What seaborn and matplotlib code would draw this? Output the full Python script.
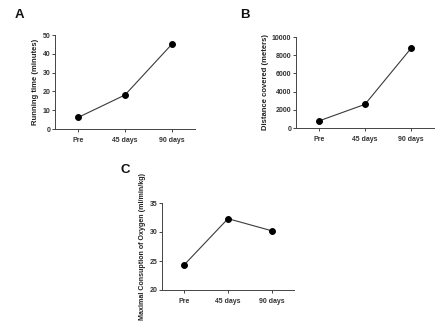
import matplotlib
matplotlib.use("Agg")
import matplotlib.pyplot as plt
import seaborn as sns
import pandas as pd

sns.set_theme(style="ticks")
plt.rcParams['font.family'] = ['Liberation Sans', 'DejaVu Sans']
plt.rcParams['font.weight'] = 'bold'

categories = ["Pre", "45 days", "90 days"]
running_time = [6.2, 18.1, 45.0]
distance = [780, 2600, 8750]
vo2max = [24.3, 32.3, 30.2]

ticks_a = [0, 10, 20, 30, 40, 50]
ticks_b = [0, 2000, 4000, 6000, 8000, 10000]
ticks_c = [20, 25, 30, 35]

fig = plt.figure(figsize=(4.44, 3.29), dpi=100)

panels = [
    ([55/444, 1-129/329, 140/444, 94/329], running_time, ticks_a, "Running time (minutes)", "A", (15/444, 1-15/329), 5.5),
    ([296/444, 1-128/329, 138/444, 91/329], distance, ticks_b, "Distance covered (meters)", "B", (240/444, 1-15/329), 5.5),
    ([162/444, 1-290/329, 132/444, 87/329], vo2max, ticks_c, "Maximal Consuption of Oxygen (ml/min/kg)", "C", (120/444, 1-170/329), 5.1),
]

for rect, vals, ticks, ylabel, letter, lpos, yfs in panels:
    ax = fig.add_axes(rect)
    df = pd.DataFrame({"time": categories, "value": vals})
    sns.lineplot(data=df, x="time", y="value", ax=ax, color="#3a3a3a", linewidth=0.8,
                 marker="o", markersize=4.2, markerfacecolor="black", markeredgecolor="black")
    ax.set_xlim(-0.5, 2.5)
    ax.set_ylim(ticks[0], ticks[-1])
    ax.set_yticks(ticks)
    ax.set_xticks(range(len(categories)))
    ax.set_xticklabels(categories)
    sns.despine(ax=ax)
    for s in ("left", "bottom"):
        ax.spines[s].set_linewidth(0.7)
        ax.spines[s].set_color("#444444")
    ax.tick_params(axis="both", length=2, width=0.7, color="#444444", labelsize=5, pad=1.5, labelcolor="#333333")
    ax.tick_params(axis="x", pad=4)
    ax.set_xlabel("")
    ax.set_ylabel(ylabel, fontsize=yfs, fontweight="bold", labelpad=2, color="#222222")
    fig.text(lpos[0], lpos[1], letter, fontsize=9.5, fontweight="bold", ha="left", va="center", color="#111111")

fig.savefig("out.png", dpi=100)
